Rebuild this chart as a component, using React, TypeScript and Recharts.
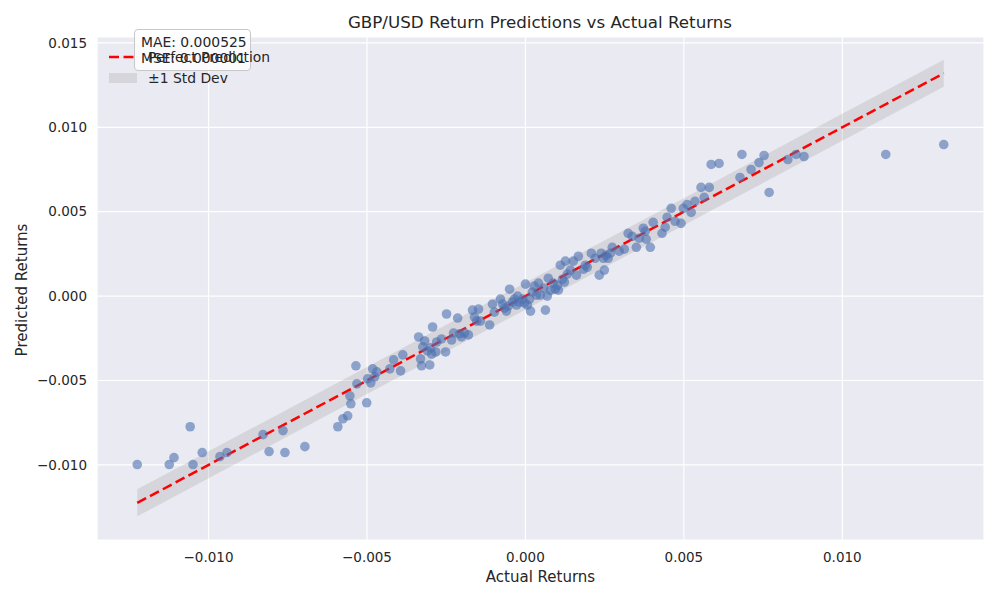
import { ComposedChart, Scatter, Line, Area, XAxis, YAxis, CartesianGrid } from "recharts";

const actualReturns = [
  -0.01225, -0.01124, -0.01109, -0.01058, -0.01049, -0.0102, -0.00964, -0.00942, -0.00828, -0.00809,
  -0.00765, -0.00759, -0.00696, -0.00592, -0.00576, -0.00561, -0.00554, -0.00551, -0.00535, -0.00532,
  -0.00501, -0.00498, -0.00488, -0.00482, -0.00476, -0.00469, -0.00428, -0.00416, -0.00394, -0.00387,
  -0.00337, -0.00331, -0.00328, -0.00324, -0.00318, -0.00309, -0.00302, -0.00296, -0.00293, -0.00283,
  -0.0028, -0.00265, -0.00252, -0.00249, -0.00233, -0.00227, -0.00214, -0.00208, -0.00202, -0.0018,
  -0.00167, -0.00161, -0.00154, -0.00148, -0.00142, -0.00113, -0.00104, -0.00098, -0.00079, -0.00066,
  -0.0006, -0.00054, -0.0005, -0.00041, -0.00035, -0.00025, -0.00019, -0.00009, -0.00003, 0.0,
  0.00006, 0.00013, 0.00016, 0.00022, 0.00028, 0.00035, 0.00041, 0.00047, 0.00057, 0.00063,
  0.00069, 0.00072, 0.00079, 0.00088, 0.00094, 0.00104, 0.0011, 0.00117, 0.00123, 0.00126,
  0.00132, 0.00142, 0.00151, 0.00161, 0.00167, 0.00183, 0.00195, 0.00208, 0.0022, 0.00233,
  0.00239, 0.00246, 0.00249, 0.00255, 0.00261, 0.00274, 0.00296, 0.00312, 0.00324, 0.00337,
  0.0035, 0.00359, 0.00372, 0.00381, 0.00394, 0.00403, 0.00431, 0.00441, 0.00447, 0.0046,
  0.00472, 0.00491, 0.00498, 0.0051, 0.00523, 0.00535, 0.00554, 0.00564, 0.0058, 0.00586,
  0.00611, 0.00677, 0.00683, 0.00712, 0.00737, 0.00753, 0.00769, 0.00828, 0.00854, 0.00879,
  0.01137, 0.0132, -0.00028, -0.00072, 0.00101, 0.00189, 0.00268, 0.00378, -0.00299, -0.00192,
];

const predictedReturns = [
  -0.00998, -0.00998, -0.00957, -0.00774, -0.00998, -0.00927, -0.00951, -0.00927, -0.00821, -0.00921,
  -0.00797, -0.00927, -0.00892, -0.00774, -0.00727, -0.00709, -0.00591, -0.00638, -0.00413, -0.0052,
  -0.00632, -0.0049, -0.00514, -0.00431, -0.00478, -0.00449, -0.00431, -0.00378, -0.00443, -0.00348,
  -0.00242, -0.00372, -0.00413, -0.00301, -0.00266, -0.00325, -0.00408, -0.00343, -0.00183, -0.00331,
  -0.00272, -0.00254, -0.00331, -0.00106, -0.0026, -0.00219, -0.0013, -0.00224, -0.00242, -0.0023,
  -0.00083, -0.00124, -0.00148, -0.00077, -0.00148, -0.00171, -0.00047, -0.00095, -0.00018, -0.00071,
  -0.00089, -0.00059, 0.00041, -0.00035, -0.00018, 0.0, -0.00035, -0.00018, -0.00041, 0.00071,
  -0.00053, -0.00018, -0.00089, 0.00024, 0.00059, 0.00006, 0.00077, 0.00006, 0.00047, -0.00083,
  0.0, 0.00106, 0.00035, 0.00077, 0.00041, 0.00035, 0.00183, 0.001, 0.00083, 0.00207,
  0.0013, 0.00154, 0.00207, 0.00124, 0.00236, 0.00159, 0.00171, 0.00254, 0.00224, 0.00124,
  0.00254, 0.00224, 0.00154, 0.00242, 0.00224, 0.00289, 0.00266, 0.00278, 0.00372, 0.00354,
  0.00289, 0.00343, 0.00402, 0.00337, 0.00289, 0.00437, 0.00372, 0.00408, 0.00467, 0.0052,
  0.00443, 0.00431, 0.0052, 0.00543, 0.00496, 0.00561, 0.00644, 0.00585, 0.00644, 0.0078,
  0.00786, 0.00703, 0.00839, 0.0075, 0.00791, 0.00833, 0.00614, 0.00809, 0.00839, 0.00827,
  0.00839, 0.00898, -0.00053, -0.00047, 0.00065, 0.00183, 0.00254, 0.00384, -0.00307, -0.00219,
];

const xTicks = [-0.01, -0.005, 0, 0.005, 0.01];
const yTicks = [-0.01, -0.005, 0, 0.005, 0.01, 0.015];
const STD_DEV = 0.0008;
const MAE_TEXT = "MAE: 0.000525";
const MSE_TEXT = "MSE: 0.000001";

const FONT = "'DejaVu Sans', sans-serif";
const TEXT = "#262626";

const fmt = (v: number) => (v < 0 ? "\u2212" : "") + Math.abs(v).toFixed(3);

const points = actualReturns.map((x, i) => ({ x, y: predictedReturns[i] }));
const minA = Math.min(...actualReturns);
const maxA = Math.max(...actualReturns);
const perfectLine = [
  { x: minA, y: minA, band: [minA - STD_DEV, minA + STD_DEV] },
  { x: maxA, y: maxA, band: [maxA - STD_DEV, maxA + STD_DEV] },
];

const Dot = (props: any) => (
  <circle cx={props.cx} cy={props.cy} r={4.8} fill="#4C72B0" fillOpacity={0.6} />
);

export default function App() {
  return (
    <div style={{ position: "absolute", left: 0, top: 0, width: 1000, height: 600, background: "#fff", fontFamily: FONT, color: TEXT }}>
      <ComposedChart width={1000} height={600} margin={{ top: 37, right: 16, bottom: 30, left: 0 }}>
        <CartesianGrid fill="#EAEAF2" fillOpacity={1} stroke="#fff" strokeWidth={1.2} />
        <XAxis
          type="number"
          dataKey="x"
          domain={[-0.01352, 0.01447]}
          ticks={xTicks}
          tickFormatter={fmt}
          axisLine={false}
          tickLine={false}
          tickMargin={6}
          height={30}
          allowDataOverflow
          tick={{ fill: TEXT, fontSize: 13.5, fontFamily: FONT }}
        />
        <YAxis
          type="number"
          dataKey="y"
          domain={[-0.01445, 0.01535]}
          ticks={yTicks}
          tickFormatter={fmt}
          axisLine={false}
          tickLine={false}
          tickMargin={4}
          width={97}
          allowDataOverflow
          tick={{ fill: TEXT, fontSize: 13.5, fontFamily: FONT }}
        />
        <Area
          data={perfectLine}
          dataKey="band"
          type="linear"
          stroke="none"
          fill="gray"
          fillOpacity={0.2}
          isAnimationActive={false}
        />
        <Scatter data={points} shape={Dot} isAnimationActive={false} />
        <Line
          data={perfectLine}
          dataKey="y"
          type="linear"
          stroke="#ff0000"
          strokeWidth={2.5}
          strokeDasharray="10 4.5"
          dot={false}
          activeDot={false}
          isAnimationActive={false}
        />
      </ComposedChart>

      <div style={{ position: "absolute", left: 0, width: 1000, top: 12, textAlign: "center", fontSize: 16.7, lineHeight: "20px", paddingLeft: 80, boxSizing: "border-box" }}>
        GBP/USD Return Predictions vs Actual Returns
      </div>
      <div style={{ position: "absolute", left: 97, width: 887, top: 567, textAlign: "center", fontSize: 15, lineHeight: "20px" }}>
        Actual Returns
      </div>
      <div style={{ position: "absolute", left: 12, top: 290, width: 0, height: 0 }}>
        <div style={{ position: "absolute", left: 0, top: 0, transform: "translate(-50%, -50%) rotate(-90deg)", whiteSpace: "nowrap", fontSize: 15, lineHeight: "20px", marginLeft: 10 }}>
          Predicted Returns
        </div>
      </div>

      {/* metrics box sits under the legend */}
      <div style={{ position: "absolute", left: 134, top: 29, width: 117, height: 42, boxSizing: "border-box", background: "rgba(255,255,255,0.8)", border: "1px solid #c8c8c8", borderRadius: 4, fontSize: 13.9, lineHeight: "16px", padding: "4px 0 0 6px" }}>
        <div>{MAE_TEXT}</div>
        <div>{MSE_TEXT}</div>
      </div>

      <div style={{ position: "absolute", left: 109, top: 47, fontSize: 13.9, lineHeight: "20px" }}>
        <div style={{ display: "flex", alignItems: "center", height: 20 }}>
          <svg width={28} height={10}><line x1={0} y1={5} x2={28} y2={5} stroke="#ff0000" strokeWidth={2.5} strokeDasharray="10 4.5" /></svg>
          <span style={{ marginLeft: 11 }}>Perfect Prediction</span>
        </div>
        <div style={{ display: "flex", alignItems: "center", height: 20, marginTop: 1 }}>
          <div style={{ width: 28, height: 10, background: "rgba(128,128,128,0.2)" }} />
          <span style={{ marginLeft: 11 }}>±1 Std Dev</span>
        </div>
      </div>
    </div>
  );
}
